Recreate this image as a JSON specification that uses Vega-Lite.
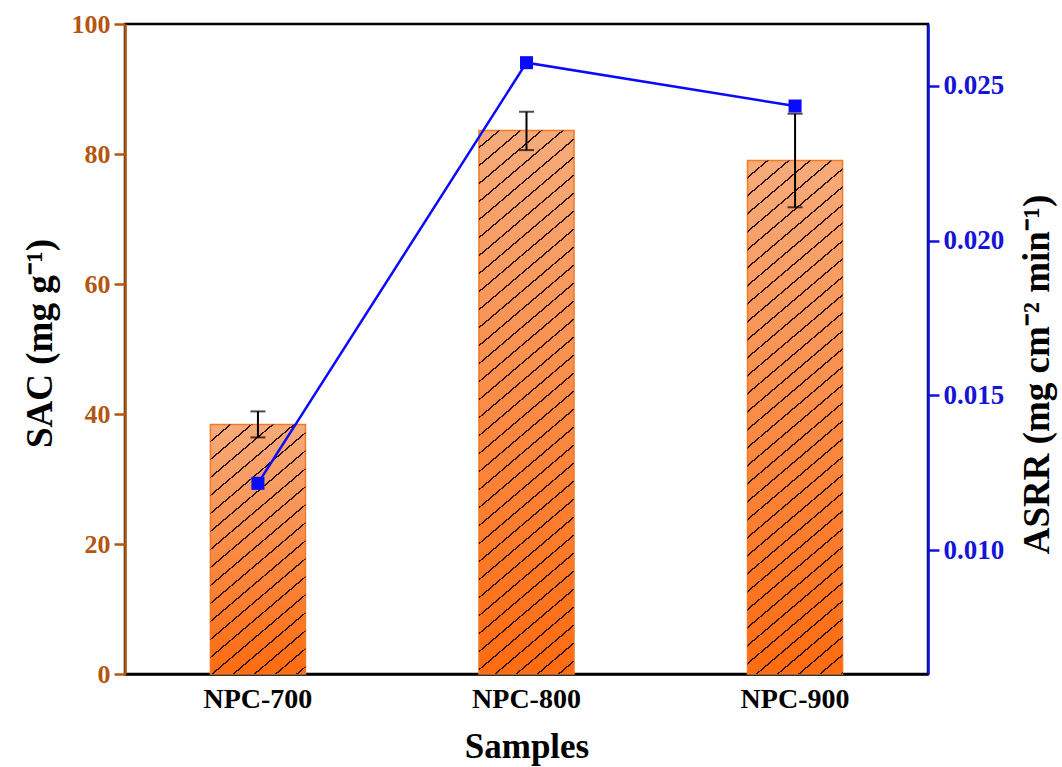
{
  "$schema": "https://vega.github.io/schema/vega-lite/v6.json",
  "width": 803,
  "height": 650,
  "autosize": {"type": "none"},
  "padding": {"left": 125, "top": 24, "right": 134, "bottom": 93},
  "background": "white",
  "config": {
    "font": "Liberation Serif",
    "view": {"stroke": "black", "strokeWidth": 2.5},
    "axis": {"grid": false, "labelFont": "Liberation Serif", "titleFont": "Liberation Serif", "labelFontWeight": "bold", "titleFontWeight": "bold", "titleColor": "black"}
  },
  "data": {
    "values": [
      {"Sample": "NPC-700", "SAC": 38.4, "SAC_lo": 36.4, "SAC_hi": 40.4, "ASRR": 0.01216},
      {"Sample": "NPC-800", "SAC": 83.6, "SAC_lo": 80.6, "SAC_hi": 86.5, "ASRR": 0.02575},
      {"Sample": "NPC-900", "SAC": 79.0, "SAC_lo": 71.8, "SAC_hi": 86.2, "ASRR": 0.02435}
    ]
  },
  "encoding": {
    "x": {
      "field": "Sample",
      "type": "nominal",
      "scale": {"paddingInner": 0.646, "paddingOuter": 0.318},
      "axis": {
        "title": "Samples",
        "titleFontSize": 35,
        "titlePadding": 16,
        "labelFontSize": 28,
        "labelAngle": 0,
        "labelColor": "black",
        "labelPadding": 11,
        "ticks": false,
        "domainColor": "black",
        "domainWidth": 2.5
      }
    }
  },
  "layer": [
    {
      "layer": [
        {
          "mark": {
            "type": "bar",
            "stroke": "#f07a28",
            "strokeWidth": 1.5,
            "fill": {"gradient": "linear", "x1": 0, "y1": 0, "x2": 0, "y2": 1, "stops": [{"offset": 0, "color": "#f6ab7a"}, {"offset": 1, "color": "#ff6b10"}]}
          },
          "encoding": {
            "y": {
              "field": "SAC",
              "type": "quantitative",
              "scale": {"domain": [0, 100], "nice": false, "zero": true},
              "axis": {
                "orient": "left",
                "title": "SAC (mg g⁻¹)",
                "titleFontSize": 37,
                "titlePadding": 12,
                "titleY": 319,
                "values": [0, 20, 40, 60, 80, 100],
                "labelFontSize": 26,
                "labelColor": "#b3560f",
                "labelPadding": 4,
                "tickSize": 11,
                "tickWidth": 2.5,
                "tickColor": "#b3560f",
                "domainColor": "#b3560f",
                "domainWidth": 2.5
              }
            }
          }
        },
        {
          "transform": [{"filter": "datum.Sample == 'NPC-700'"}],
          "mark": {
            "type": "bar",
            "strokeWidth": 0,
            "fill": {"gradient": "linear", "x1": 0, "y1": 0, "x2": 0.8448, "y2": 2.6113, "stops": [
              {"offset": 0, "color": "transparent"},
              {"offset": 0.0225, "color": "transparent"}, {"offset": 0.0225, "color": "#2a0e02"}, {"offset": 0.025, "color": "#2a0e02"}, {"offset": 0.025, "color": "transparent"},
              {"offset": 0.0475, "color": "transparent"}, {"offset": 0.0475, "color": "#2a0e02"}, {"offset": 0.05, "color": "#2a0e02"}, {"offset": 0.05, "color": "transparent"},
              {"offset": 0.0725, "color": "transparent"}, {"offset": 0.0725, "color": "#2a0e02"}, {"offset": 0.075, "color": "#2a0e02"}, {"offset": 0.075, "color": "transparent"},
              {"offset": 0.0975, "color": "transparent"}, {"offset": 0.0975, "color": "#2a0e02"}, {"offset": 0.1, "color": "#2a0e02"}, {"offset": 0.1, "color": "transparent"},
              {"offset": 0.1225, "color": "transparent"}, {"offset": 0.1225, "color": "#2a0e02"}, {"offset": 0.125, "color": "#2a0e02"}, {"offset": 0.125, "color": "transparent"},
              {"offset": 0.1475, "color": "transparent"}, {"offset": 0.1475, "color": "#2a0e02"}, {"offset": 0.15, "color": "#2a0e02"}, {"offset": 0.15, "color": "transparent"},
              {"offset": 0.1725, "color": "transparent"}, {"offset": 0.1725, "color": "#2a0e02"}, {"offset": 0.175, "color": "#2a0e02"}, {"offset": 0.175, "color": "transparent"},
              {"offset": 0.1975, "color": "transparent"}, {"offset": 0.1975, "color": "#2a0e02"}, {"offset": 0.2, "color": "#2a0e02"}, {"offset": 0.2, "color": "transparent"},
              {"offset": 0.2225, "color": "transparent"}, {"offset": 0.2225, "color": "#2a0e02"}, {"offset": 0.225, "color": "#2a0e02"}, {"offset": 0.225, "color": "transparent"},
              {"offset": 0.2475, "color": "transparent"}, {"offset": 0.2475, "color": "#2a0e02"}, {"offset": 0.25, "color": "#2a0e02"}, {"offset": 0.25, "color": "transparent"},
              {"offset": 0.2725, "color": "transparent"}, {"offset": 0.2725, "color": "#2a0e02"}, {"offset": 0.275, "color": "#2a0e02"}, {"offset": 0.275, "color": "transparent"},
              {"offset": 0.2975, "color": "transparent"}, {"offset": 0.2975, "color": "#2a0e02"}, {"offset": 0.3, "color": "#2a0e02"}, {"offset": 0.3, "color": "transparent"},
              {"offset": 0.3225, "color": "transparent"}, {"offset": 0.3225, "color": "#2a0e02"}, {"offset": 0.325, "color": "#2a0e02"}, {"offset": 0.325, "color": "transparent"},
              {"offset": 0.3475, "color": "transparent"}, {"offset": 0.3475, "color": "#2a0e02"}, {"offset": 0.35, "color": "#2a0e02"}, {"offset": 0.35, "color": "transparent"},
              {"offset": 0.3725, "color": "transparent"}, {"offset": 0.3725, "color": "#2a0e02"}, {"offset": 0.375, "color": "#2a0e02"}, {"offset": 0.375, "color": "transparent"},
              {"offset": 0.3975, "color": "transparent"}, {"offset": 0.3975, "color": "#2a0e02"}, {"offset": 0.4, "color": "#2a0e02"}, {"offset": 0.4, "color": "transparent"},
              {"offset": 0.4225, "color": "transparent"}, {"offset": 0.4225, "color": "#2a0e02"}, {"offset": 0.425, "color": "#2a0e02"}, {"offset": 0.425, "color": "transparent"},
              {"offset": 0.4475, "color": "transparent"}, {"offset": 0.4475, "color": "#2a0e02"}, {"offset": 0.45, "color": "#2a0e02"}, {"offset": 0.45, "color": "transparent"},
              {"offset": 0.4725, "color": "transparent"}, {"offset": 0.4725, "color": "#2a0e02"}, {"offset": 0.475, "color": "#2a0e02"}, {"offset": 0.475, "color": "transparent"},
              {"offset": 1, "color": "transparent"}
            ]}
          },
          "encoding": {"y": {"field": "SAC", "type": "quantitative"}}
        },
        {
          "transform": [{"filter": "datum.Sample == 'NPC-800'"}],
          "mark": {
            "type": "bar",
            "strokeWidth": 0,
            "fill": {"gradient": "linear", "x1": 0, "y1": 0, "x2": 0.1926, "y2": 1.2964, "stops": [
              {"offset": 0, "color": "transparent"},
              {"offset": 0.0225, "color": "transparent"}, {"offset": 0.0225, "color": "#2a0e02"}, {"offset": 0.025, "color": "#2a0e02"}, {"offset": 0.025, "color": "transparent"},
              {"offset": 0.0475, "color": "transparent"}, {"offset": 0.0475, "color": "#2a0e02"}, {"offset": 0.05, "color": "#2a0e02"}, {"offset": 0.05, "color": "transparent"},
              {"offset": 0.0725, "color": "transparent"}, {"offset": 0.0725, "color": "#2a0e02"}, {"offset": 0.075, "color": "#2a0e02"}, {"offset": 0.075, "color": "transparent"},
              {"offset": 0.0975, "color": "transparent"}, {"offset": 0.0975, "color": "#2a0e02"}, {"offset": 0.1, "color": "#2a0e02"}, {"offset": 0.1, "color": "transparent"},
              {"offset": 0.1225, "color": "transparent"}, {"offset": 0.1225, "color": "#2a0e02"}, {"offset": 0.125, "color": "#2a0e02"}, {"offset": 0.125, "color": "transparent"},
              {"offset": 0.1475, "color": "transparent"}, {"offset": 0.1475, "color": "#2a0e02"}, {"offset": 0.15, "color": "#2a0e02"}, {"offset": 0.15, "color": "transparent"},
              {"offset": 0.1725, "color": "transparent"}, {"offset": 0.1725, "color": "#2a0e02"}, {"offset": 0.175, "color": "#2a0e02"}, {"offset": 0.175, "color": "transparent"},
              {"offset": 0.1975, "color": "transparent"}, {"offset": 0.1975, "color": "#2a0e02"}, {"offset": 0.2, "color": "#2a0e02"}, {"offset": 0.2, "color": "transparent"},
              {"offset": 0.2225, "color": "transparent"}, {"offset": 0.2225, "color": "#2a0e02"}, {"offset": 0.225, "color": "#2a0e02"}, {"offset": 0.225, "color": "transparent"},
              {"offset": 0.2475, "color": "transparent"}, {"offset": 0.2475, "color": "#2a0e02"}, {"offset": 0.25, "color": "#2a0e02"}, {"offset": 0.25, "color": "transparent"},
              {"offset": 0.2725, "color": "transparent"}, {"offset": 0.2725, "color": "#2a0e02"}, {"offset": 0.275, "color": "#2a0e02"}, {"offset": 0.275, "color": "transparent"},
              {"offset": 0.2975, "color": "transparent"}, {"offset": 0.2975, "color": "#2a0e02"}, {"offset": 0.3, "color": "#2a0e02"}, {"offset": 0.3, "color": "transparent"},
              {"offset": 0.3225, "color": "transparent"}, {"offset": 0.3225, "color": "#2a0e02"}, {"offset": 0.325, "color": "#2a0e02"}, {"offset": 0.325, "color": "transparent"},
              {"offset": 0.3475, "color": "transparent"}, {"offset": 0.3475, "color": "#2a0e02"}, {"offset": 0.35, "color": "#2a0e02"}, {"offset": 0.35, "color": "transparent"},
              {"offset": 0.3725, "color": "transparent"}, {"offset": 0.3725, "color": "#2a0e02"}, {"offset": 0.375, "color": "#2a0e02"}, {"offset": 0.375, "color": "transparent"},
              {"offset": 0.3975, "color": "transparent"}, {"offset": 0.3975, "color": "#2a0e02"}, {"offset": 0.4, "color": "#2a0e02"}, {"offset": 0.4, "color": "transparent"},
              {"offset": 0.4225, "color": "transparent"}, {"offset": 0.4225, "color": "#2a0e02"}, {"offset": 0.425, "color": "#2a0e02"}, {"offset": 0.425, "color": "transparent"},
              {"offset": 0.4475, "color": "transparent"}, {"offset": 0.4475, "color": "#2a0e02"}, {"offset": 0.45, "color": "#2a0e02"}, {"offset": 0.45, "color": "transparent"},
              {"offset": 0.4725, "color": "transparent"}, {"offset": 0.4725, "color": "#2a0e02"}, {"offset": 0.475, "color": "#2a0e02"}, {"offset": 0.475, "color": "transparent"},
              {"offset": 0.4975, "color": "transparent"}, {"offset": 0.4975, "color": "#2a0e02"}, {"offset": 0.5, "color": "#2a0e02"}, {"offset": 0.5, "color": "transparent"},
              {"offset": 0.5225, "color": "transparent"}, {"offset": 0.5225, "color": "#2a0e02"}, {"offset": 0.525, "color": "#2a0e02"}, {"offset": 0.525, "color": "transparent"},
              {"offset": 0.5475, "color": "transparent"}, {"offset": 0.5475, "color": "#2a0e02"}, {"offset": 0.55, "color": "#2a0e02"}, {"offset": 0.55, "color": "transparent"},
              {"offset": 0.5725, "color": "transparent"}, {"offset": 0.5725, "color": "#2a0e02"}, {"offset": 0.575, "color": "#2a0e02"}, {"offset": 0.575, "color": "transparent"},
              {"offset": 0.5975, "color": "transparent"}, {"offset": 0.5975, "color": "#2a0e02"}, {"offset": 0.6, "color": "#2a0e02"}, {"offset": 0.6, "color": "transparent"},
              {"offset": 0.6225, "color": "transparent"}, {"offset": 0.6225, "color": "#2a0e02"}, {"offset": 0.625, "color": "#2a0e02"}, {"offset": 0.625, "color": "transparent"},
              {"offset": 0.6475, "color": "transparent"}, {"offset": 0.6475, "color": "#2a0e02"}, {"offset": 0.65, "color": "#2a0e02"}, {"offset": 0.65, "color": "transparent"},
              {"offset": 0.6725, "color": "transparent"}, {"offset": 0.6725, "color": "#2a0e02"}, {"offset": 0.675, "color": "#2a0e02"}, {"offset": 0.675, "color": "transparent"},
              {"offset": 0.6975, "color": "transparent"}, {"offset": 0.6975, "color": "#2a0e02"}, {"offset": 0.7, "color": "#2a0e02"}, {"offset": 0.7, "color": "transparent"},
              {"offset": 0.7225, "color": "transparent"}, {"offset": 0.7225, "color": "#2a0e02"}, {"offset": 0.725, "color": "#2a0e02"}, {"offset": 0.725, "color": "transparent"},
              {"offset": 0.7475, "color": "transparent"}, {"offset": 0.7475, "color": "#2a0e02"}, {"offset": 0.75, "color": "#2a0e02"}, {"offset": 0.75, "color": "transparent"},
              {"offset": 0.7725, "color": "transparent"}, {"offset": 0.7725, "color": "#2a0e02"}, {"offset": 0.775, "color": "#2a0e02"}, {"offset": 0.775, "color": "transparent"},
              {"offset": 0.7975, "color": "transparent"}, {"offset": 0.7975, "color": "#2a0e02"}, {"offset": 0.8, "color": "#2a0e02"}, {"offset": 0.8, "color": "transparent"},
              {"offset": 0.8225, "color": "transparent"}, {"offset": 0.8225, "color": "#2a0e02"}, {"offset": 0.825, "color": "#2a0e02"}, {"offset": 0.825, "color": "transparent"},
              {"offset": 0.8475, "color": "transparent"}, {"offset": 0.8475, "color": "#2a0e02"}, {"offset": 0.85, "color": "#2a0e02"}, {"offset": 0.85, "color": "transparent"},
              {"offset": 0.8725, "color": "transparent"}, {"offset": 0.8725, "color": "#2a0e02"}, {"offset": 0.875, "color": "#2a0e02"}, {"offset": 0.875, "color": "transparent"},
              {"offset": 1, "color": "transparent"}
            ]}
          },
          "encoding": {"y": {"field": "SAC", "type": "quantitative"}}
        },
        {
          "transform": [{"filter": "datum.Sample == 'NPC-900'"}],
          "mark": {
            "type": "bar",
            "strokeWidth": 0,
            "fill": {"gradient": "linear", "x1": 0, "y1": 0, "x2": 0.2152, "y2": 1.3683, "stops": [
              {"offset": 0, "color": "transparent"},
              {"offset": 0.0225, "color": "transparent"}, {"offset": 0.0225, "color": "#2a0e02"}, {"offset": 0.025, "color": "#2a0e02"}, {"offset": 0.025, "color": "transparent"},
              {"offset": 0.0475, "color": "transparent"}, {"offset": 0.0475, "color": "#2a0e02"}, {"offset": 0.05, "color": "#2a0e02"}, {"offset": 0.05, "color": "transparent"},
              {"offset": 0.0725, "color": "transparent"}, {"offset": 0.0725, "color": "#2a0e02"}, {"offset": 0.075, "color": "#2a0e02"}, {"offset": 0.075, "color": "transparent"},
              {"offset": 0.0975, "color": "transparent"}, {"offset": 0.0975, "color": "#2a0e02"}, {"offset": 0.1, "color": "#2a0e02"}, {"offset": 0.1, "color": "transparent"},
              {"offset": 0.1225, "color": "transparent"}, {"offset": 0.1225, "color": "#2a0e02"}, {"offset": 0.125, "color": "#2a0e02"}, {"offset": 0.125, "color": "transparent"},
              {"offset": 0.1475, "color": "transparent"}, {"offset": 0.1475, "color": "#2a0e02"}, {"offset": 0.15, "color": "#2a0e02"}, {"offset": 0.15, "color": "transparent"},
              {"offset": 0.1725, "color": "transparent"}, {"offset": 0.1725, "color": "#2a0e02"}, {"offset": 0.175, "color": "#2a0e02"}, {"offset": 0.175, "color": "transparent"},
              {"offset": 0.1975, "color": "transparent"}, {"offset": 0.1975, "color": "#2a0e02"}, {"offset": 0.2, "color": "#2a0e02"}, {"offset": 0.2, "color": "transparent"},
              {"offset": 0.2225, "color": "transparent"}, {"offset": 0.2225, "color": "#2a0e02"}, {"offset": 0.225, "color": "#2a0e02"}, {"offset": 0.225, "color": "transparent"},
              {"offset": 0.2475, "color": "transparent"}, {"offset": 0.2475, "color": "#2a0e02"}, {"offset": 0.25, "color": "#2a0e02"}, {"offset": 0.25, "color": "transparent"},
              {"offset": 0.2725, "color": "transparent"}, {"offset": 0.2725, "color": "#2a0e02"}, {"offset": 0.275, "color": "#2a0e02"}, {"offset": 0.275, "color": "transparent"},
              {"offset": 0.2975, "color": "transparent"}, {"offset": 0.2975, "color": "#2a0e02"}, {"offset": 0.3, "color": "#2a0e02"}, {"offset": 0.3, "color": "transparent"},
              {"offset": 0.3225, "color": "transparent"}, {"offset": 0.3225, "color": "#2a0e02"}, {"offset": 0.325, "color": "#2a0e02"}, {"offset": 0.325, "color": "transparent"},
              {"offset": 0.3475, "color": "transparent"}, {"offset": 0.3475, "color": "#2a0e02"}, {"offset": 0.35, "color": "#2a0e02"}, {"offset": 0.35, "color": "transparent"},
              {"offset": 0.3725, "color": "transparent"}, {"offset": 0.3725, "color": "#2a0e02"}, {"offset": 0.375, "color": "#2a0e02"}, {"offset": 0.375, "color": "transparent"},
              {"offset": 0.3975, "color": "transparent"}, {"offset": 0.3975, "color": "#2a0e02"}, {"offset": 0.4, "color": "#2a0e02"}, {"offset": 0.4, "color": "transparent"},
              {"offset": 0.4225, "color": "transparent"}, {"offset": 0.4225, "color": "#2a0e02"}, {"offset": 0.425, "color": "#2a0e02"}, {"offset": 0.425, "color": "transparent"},
              {"offset": 0.4475, "color": "transparent"}, {"offset": 0.4475, "color": "#2a0e02"}, {"offset": 0.45, "color": "#2a0e02"}, {"offset": 0.45, "color": "transparent"},
              {"offset": 0.4725, "color": "transparent"}, {"offset": 0.4725, "color": "#2a0e02"}, {"offset": 0.475, "color": "#2a0e02"}, {"offset": 0.475, "color": "transparent"},
              {"offset": 0.4975, "color": "transparent"}, {"offset": 0.4975, "color": "#2a0e02"}, {"offset": 0.5, "color": "#2a0e02"}, {"offset": 0.5, "color": "transparent"},
              {"offset": 0.5225, "color": "transparent"}, {"offset": 0.5225, "color": "#2a0e02"}, {"offset": 0.525, "color": "#2a0e02"}, {"offset": 0.525, "color": "transparent"},
              {"offset": 0.5475, "color": "transparent"}, {"offset": 0.5475, "color": "#2a0e02"}, {"offset": 0.55, "color": "#2a0e02"}, {"offset": 0.55, "color": "transparent"},
              {"offset": 0.5725, "color": "transparent"}, {"offset": 0.5725, "color": "#2a0e02"}, {"offset": 0.575, "color": "#2a0e02"}, {"offset": 0.575, "color": "transparent"},
              {"offset": 0.5975, "color": "transparent"}, {"offset": 0.5975, "color": "#2a0e02"}, {"offset": 0.6, "color": "#2a0e02"}, {"offset": 0.6, "color": "transparent"},
              {"offset": 0.6225, "color": "transparent"}, {"offset": 0.6225, "color": "#2a0e02"}, {"offset": 0.625, "color": "#2a0e02"}, {"offset": 0.625, "color": "transparent"},
              {"offset": 0.6475, "color": "transparent"}, {"offset": 0.6475, "color": "#2a0e02"}, {"offset": 0.65, "color": "#2a0e02"}, {"offset": 0.65, "color": "transparent"},
              {"offset": 0.6725, "color": "transparent"}, {"offset": 0.6725, "color": "#2a0e02"}, {"offset": 0.675, "color": "#2a0e02"}, {"offset": 0.675, "color": "transparent"},
              {"offset": 0.6975, "color": "transparent"}, {"offset": 0.6975, "color": "#2a0e02"}, {"offset": 0.7, "color": "#2a0e02"}, {"offset": 0.7, "color": "transparent"},
              {"offset": 0.7225, "color": "transparent"}, {"offset": 0.7225, "color": "#2a0e02"}, {"offset": 0.725, "color": "#2a0e02"}, {"offset": 0.725, "color": "transparent"},
              {"offset": 0.7475, "color": "transparent"}, {"offset": 0.7475, "color": "#2a0e02"}, {"offset": 0.75, "color": "#2a0e02"}, {"offset": 0.75, "color": "transparent"},
              {"offset": 0.7725, "color": "transparent"}, {"offset": 0.7725, "color": "#2a0e02"}, {"offset": 0.775, "color": "#2a0e02"}, {"offset": 0.775, "color": "transparent"},
              {"offset": 0.7975, "color": "transparent"}, {"offset": 0.7975, "color": "#2a0e02"}, {"offset": 0.8, "color": "#2a0e02"}, {"offset": 0.8, "color": "transparent"},
              {"offset": 0.8225, "color": "transparent"}, {"offset": 0.8225, "color": "#2a0e02"}, {"offset": 0.825, "color": "#2a0e02"}, {"offset": 0.825, "color": "transparent"},
              {"offset": 1, "color": "transparent"}
            ]}
          },
          "encoding": {"y": {"field": "SAC", "type": "quantitative"}}
        },
        {
          "mark": {"type": "rule", "color": "black", "strokeWidth": 2},
          "encoding": {
            "y": {"field": "SAC_lo", "type": "quantitative"},
            "y2": {"field": "SAC_hi"}
          }
        },
        {
          "mark": {"type": "tick", "color": "black", "size": 15, "thickness": 2},
          "encoding": {"y": {"field": "SAC_lo", "type": "quantitative"}}
        },
        {
          "mark": {"type": "tick", "color": "black", "size": 15, "thickness": 2},
          "encoding": {"y": {"field": "SAC_hi", "type": "quantitative"}}
        }
      ]
    },
    {
      "encoding": {
        "y": {
          "field": "ASRR",
          "type": "quantitative",
          "scale": {"domain": [0.006, 0.027], "nice": false, "zero": false},
          "axis": {
            "orient": "right",
            "title": "ASRR (mg cm⁻² min⁻¹)",
            "titleAngle": 270,
            "titleBaseline": "top",
            "titleFontSize": 37,
            "titlePadding": 16,
            "titleY": 350,
            "values": [0.01, 0.015, 0.02, 0.025],
            "format": ".3f",
            "labelFontSize": 27,
            "labelColor": "#1414d6",
            "labelPadding": 4,
            "tickSize": 11,
            "tickWidth": 2.5,
            "tickColor": "#1010e0",
            "domainColor": "#1010e0",
            "domainWidth": 2.5
          }
        }
      },
      "layer": [
        {"mark": {"type": "line", "color": "#0a0aff", "strokeWidth": 2.5}},
        {"mark": {"type": "point", "shape": "square", "filled": true, "opacity": 1, "size": 170, "color": "#0a0aff"}}
      ]
    }
  ],
  "resolve": {"scale": {"y": "independent"}}
}
